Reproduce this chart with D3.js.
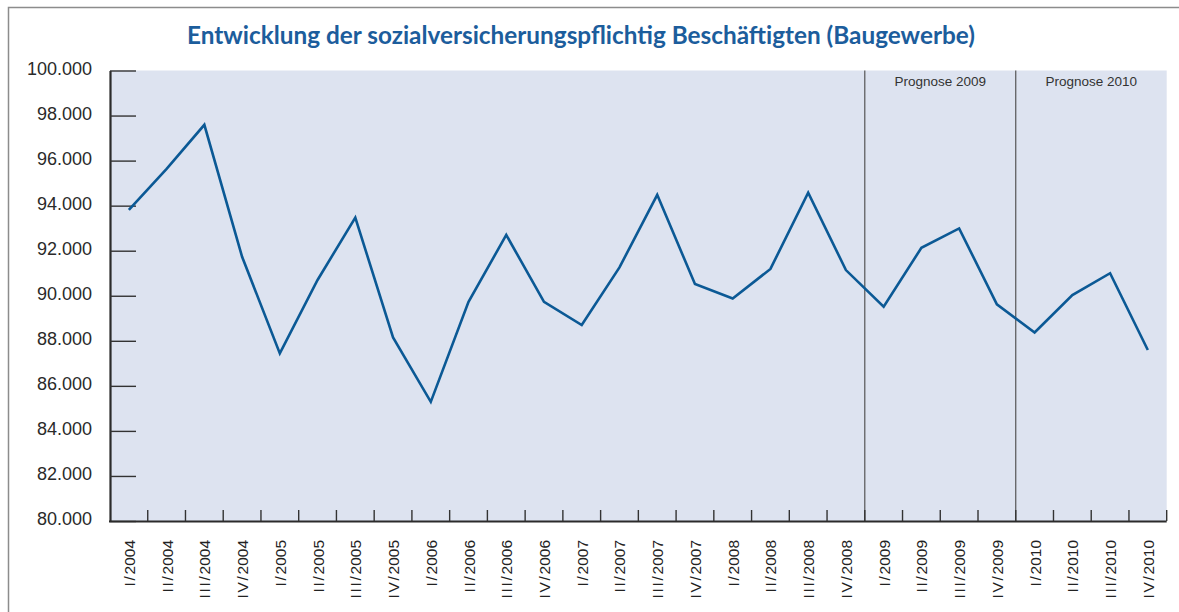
<!DOCTYPE html>
<html>
<head>
<meta charset="utf-8">
<script src="https://cdn.jsdelivr.net/npm/d3@7"></script>
<style>
  html, body { margin: 0; padding: 0; background: #ffffff; }
  svg { display: block; }
</style>
</head>
<body>
<svg id="chart" width="1179" height="612"></svg>
<script>
const title = "Entwicklung der sozialversicherungspflichtig Beschäftigten (Baugewerbe)";
const categories = [
  "I/2004","II/2004","III/2004","IV/2004",
  "I/2005","II/2005","III/2005","IV/2005",
  "I/2006","II/2006","III/2006","IV/2006",
  "I/2007","II/2007","III/2007","IV/2007",
  "I/2008","II/2008","III/2008","IV/2008",
  "I/2009","II/2009","III/2009","IV/2009",
  "I/2010","II/2010","III/2010","IV/2010"
];
const values = [
  93810, 95630, 97590, 91730,
  87440, 90700, 93470, 88150,
  85290, 89730, 92700, 89730,
  88700, 91260, 94480, 90520,
  89880, 91190, 94580, 91140,
  89510, 92130, 92990, 89620,
  88370, 90030, 91000, 87590
];
const yTicks = [80000, 82000, 84000, 86000, 88000, 90000, 92000, 94000, 96000, 98000, 100000];
const forecastStarts = ["I/2009", "I/2010"];
const forecastLabels = ["Prognose 2009", "Prognose 2010"];

(function () {
const svg = d3.select("#chart");
const W = 1179, H = 612;
const pLeft = 110, pRight = 1166.7, pTop = 70.5, pBottom = 521;

const de = d3.formatLocale({decimal: ",", thousands: ".", grouping: [3], currency: ["", " €"]});
const fmt = de.format(",");

const x = d3.scaleBand().domain(categories).range([pLeft, pRight]).padding(0);
const y = d3.scaleLinear().domain([80000, 100000]).range([pBottom, pTop]);
const bw = x.bandwidth();

// outer frame
svg.append("path")
  .attr("d", `M8.5,${H + 2} L8.5,7.5 L${W + 2},7.5`)
  .attr("fill", "none").attr("stroke", "#8c8c8c").attr("stroke-width", 1.5);

// title
const t = svg.append("text")
  .attr("x", 187).attr("y", 44)
  .attr("font-family", "Lato, 'Open Sans', sans-serif")
  .attr("font-weight", 700)
  .attr("font-size", 23)
  .attr("fill", "#1c5d9c")
  .text(title);
const tw = t.node().getComputedTextLength();
t.attr("font-size", 23 * 788 / tw);

// plot background
svg.append("rect")
  .attr("x", pLeft).attr("y", pTop)
  .attr("width", pRight - pLeft).attr("height", pBottom - pTop)
  .attr("fill", "#dde3f0");

// forecast dividers + labels
forecastStarts.forEach((c, i) => {
  const x0 = x(c);
  svg.append("line")
    .attr("x1", x0).attr("x2", x0).attr("y1", pTop).attr("y2", pBottom)
    .attr("stroke", "#555").attr("stroke-width", 1.2);
  const x1 = i + 1 < forecastStarts.length ? x(forecastStarts[i + 1]) : pRight;
  svg.append("text")
    .attr("x", (x0 + x1) / 2).attr("y", 86)
    .attr("text-anchor", "middle")
    .attr("font-family", "'Liberation Sans', Arial, sans-serif")
    .attr("font-size", 13.5)
    .attr("fill", "#333")
    .text(forecastLabels[i]);
});

// y axis
const yAxis = d3.axisLeft(y).tickValues(yTicks).tickFormat(fmt)
  .tickSizeInner(-26).tickSizeOuter(0).tickPadding(18);
const gy = svg.append("g").attr("transform", `translate(${pLeft},0)`).call(yAxis);
gy.select(".domain").attr("stroke", "#2b2b2b").attr("stroke-width", 2.2);
gy.selectAll(".tick line").attr("stroke", "#333").attr("stroke-width", 1.4);
gy.selectAll(".tick text")
  .attr("font-family", "'Liberation Sans', Arial, sans-serif")
  .attr("font-size", 18)
  .attr("fill", "#2a2a2a")
  .attr("dy", "0.22em");

// x axis line
svg.append("line")
  .attr("x1", pLeft - 1).attr("x2", pRight).attr("y1", pBottom + 0.5).attr("y2", pBottom + 0.5)
  .attr("stroke", "#2b2b2b").attr("stroke-width", 1.8);

// x ticks at band boundaries (upward)
svg.append("g").selectAll("line")
  .data(categories)
  .join("line")
  .attr("x1", d => x(d) + bw).attr("x2", d => x(d) + bw)
  .attr("y1", pBottom).attr("y2", pBottom - 11)
  .attr("stroke", "#333").attr("stroke-width", 1.4);

// x labels rotated
const lab = svg.append("g").selectAll("text")
  .data(categories)
  .join("text")
  .attr("transform", d => `translate(${x(d) + bw / 2 + 6},540) rotate(-90)`)
  .attr("text-anchor", "end")
  .attr("font-family", "'Liberation Sans', Arial, sans-serif")
  .attr("font-size", 15.5)
  .attr("fill", "#222");
lab.each(function (d) {
  const parts = d.split("/");
  const el = d3.select(this);
  el.append("tspan").attr("letter-spacing", "1.7px").text(parts[0] + "/");
  el.append("tspan").text(parts[1]);
});

// data line
const line = d3.line()
  .x((d, i) => x(categories[i]) + bw / 2)
  .y(d => y(d));
svg.append("path")
  .datum(values)
  .attr("d", line)
  .attr("fill", "none")
  .attr("stroke", "#0b5995")
  .attr("stroke-width", 2.6)
  .attr("stroke-linejoin", "miter");
})();
</script>
</body>
</html>
